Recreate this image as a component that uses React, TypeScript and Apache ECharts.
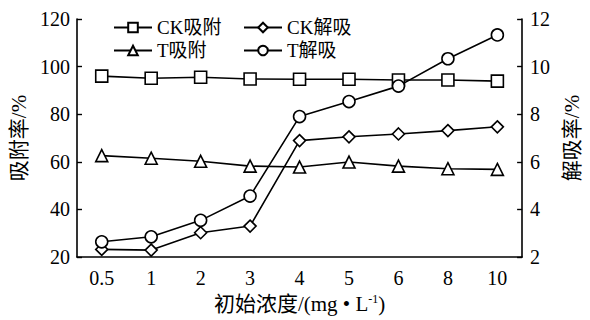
import React, { useEffect, useRef } from "react";
import * as echarts from "echarts";

const categories = ["0.5", "1", "2", "3", "4", "5", "6", "8", "10"];
const ckAdsorb = [96.0, 95.1, 95.5, 94.8, 94.7, 94.7, 94.4, 94.4, 93.9];
const tAdsorb = [62.6, 61.5, 60.2, 58.2, 57.8, 59.9, 58.2, 57.1, 56.8];
const ckDesorb = [2.32, 2.29, 3.02, 3.3, 6.89, 7.05, 7.17, 7.31, 7.47];
const tDesorb = [2.64, 2.85, 3.54, 4.56, 7.9, 8.53, 9.18, 10.33, 11.33];

const FONT = "'Liberation Serif', 'Times New Roman', 'Noto Sans CJK SC', serif";

export default function App() {
  const ref = useRef<HTMLDivElement>(null);
  useEffect(() => {
    if (!ref.current) return;
    const chart = echarts.init(ref.current, null, { renderer: "svg" });
    const lineStyle = { color: "#000", width: 1.6 };
    const itemStyle = { color: "#fff", borderColor: "#000", borderWidth: 1.6 };
    const mk = (name: string, data: number[], symbol: string, yAxisIndex: number, size: number) => ({
      name,
      type: "line",
      data,
      yAxisIndex,
      symbol,
      symbolSize: size,
      showAllSymbol: true,
      lineStyle,
      itemStyle,
      z: 3,
    });
    const legendText = { fontFamily: FONT, fontSize: 19, color: "#000" };
    chart.setOption({
      animation: false,
      textStyle: { fontFamily: FONT },
      grid: { left: 73, right: 56, top: 19, bottom: 63 },
      legend: [
        {
          orient: "vertical",
          left: 108,
          top: 13,
          itemWidth: 38,
          itemHeight: 12,
          itemGap: 4,
          textStyle: legendText,
          data: ["CK吸附", "T吸附"],
        },
        {
          orient: "vertical",
          left: 238,
          top: 13,
          itemWidth: 38,
          itemHeight: 12,
          itemGap: 4,
          textStyle: legendText,
          data: ["CK解吸", "T解吸"],
        },
      ],
      xAxis: {
        type: "category",
        data: categories,
        boundaryGap: true,
        axisLine: { lineStyle: { color: "#000", width: 1.6 } },
        axisTick: { inside: true, alignWithLabel: true, length: 5, lineStyle: { color: "#000", width: 1.4 } },
        axisLabel: { color: "#000", fontSize: 20, fontFamily: FONT, margin: 11 },
        name: "初始浓度/(mg • L{sup|-1})",
        nameLocation: "middle",
        nameGap: 36,
        nameTextStyle: {
          color: "#000",
          fontSize: 21,
          fontFamily: FONT,
          rich: { sup: { fontSize: 12, verticalAlign: "top", padding: [0, 0, 9, 0], fontFamily: FONT, color: "#000" } },
        },
      },
      yAxis: [
        {
          type: "value",
          min: 20,
          max: 120,
          interval: 20,
          splitLine: { show: false },
          axisLine: { show: true, lineStyle: { color: "#000", width: 1.6 } },
          axisTick: { show: true, inside: true, length: 5, lineStyle: { color: "#000", width: 1.4 } },
          axisLabel: { color: "#000", fontSize: 20, fontFamily: FONT, margin: 7 },
          name: "吸附率/%",
          nameLocation: "middle",
          nameRotate: 90,
          nameGap: 48,
          nameTextStyle: { color: "#000", fontSize: 21, fontFamily: FONT },
        },
        {
          type: "value",
          min: 2,
          max: 12,
          interval: 2,
          position: "right",
          splitLine: { show: false },
          axisLine: { show: true, lineStyle: { color: "#000", width: 1.6 } },
          axisTick: { show: true, inside: true, length: 5, lineStyle: { color: "#000", width: 1.4 } },
          axisLabel: { color: "#000", fontSize: 20, fontFamily: FONT, margin: 8 },
          name: "解吸率/%",
          nameLocation: "middle",
          nameRotate: 90,
          nameGap: 37,
          nameTextStyle: { color: "#000", fontSize: 21, fontFamily: FONT },
        },
      ],
      series: [
        mk("CK吸附", ckAdsorb, "rect", 0, 12),
        mk("T吸附", tAdsorb, "triangle", 0, 12),
        mk("CK解吸", ckDesorb, "diamond", 1, 12),
        mk("T解吸", tDesorb, "circle", 1, 12),
      ],
    });
    return () => chart.dispose();
  }, []);
  return <div ref={ref} style={{ width: 590, height: 320, position: "absolute", left: 0, top: 0, background: "#fff" }} />;
}
